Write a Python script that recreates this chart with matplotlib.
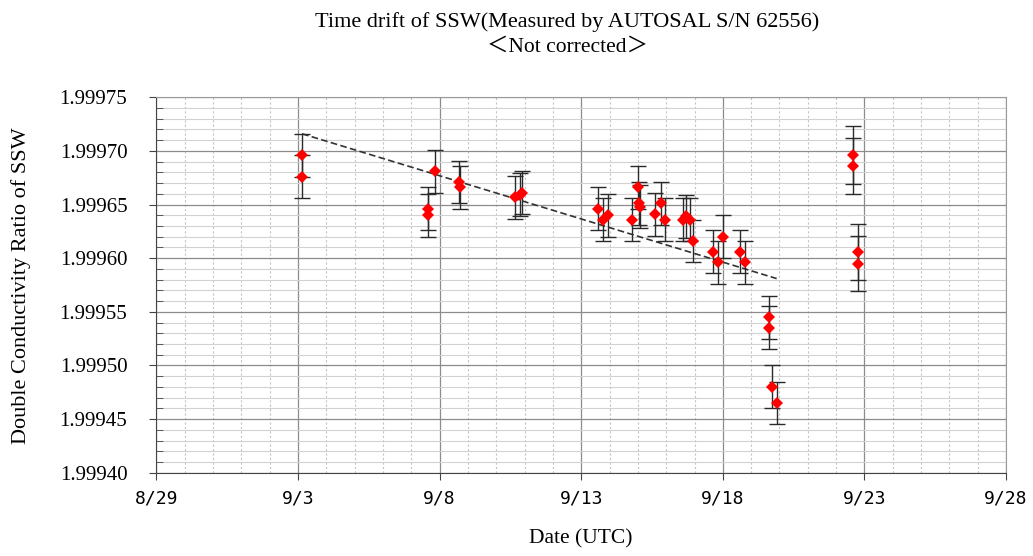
import numpy as np
import matplotlib
matplotlib.use("Agg")
from matplotlib import pyplot as plt
from matplotlib.ticker import MultipleLocator, FormatStrFormatter

# day of September (8/31 = 0), measured ratio, error
days = [3.14, 3.14, 7.60, 7.60, 7.85, 8.68, 8.73, 10.65, 10.82, 10.92,
        13.59, 13.77, 13.94, 14.80, 15.00, 15.03, 15.08, 15.62, 15.80, 15.94,
        16.59, 16.71, 16.83, 16.94, 17.65, 17.82, 18.00, 18.59, 18.77,
        19.63, 19.63, 19.75, 19.92, 22.61, 22.61, 22.78, 22.78]
ratio = [1.999696, 1.999676, 1.999646, 1.999640, 1.999681, 1.999671, 1.999666,
         1.999657, 1.999659, 1.999661,
         1.999646, 1.999636, 1.999640, 1.999636, 1.999666, 1.999651, 1.999648,
         1.999641, 1.999651, 1.999636,
         1.999636, 1.999639, 1.999636, 1.999616, 1.999606, 1.999596, 1.999620,
         1.999606, 1.999596,
         1.999545, 1.999535, 1.999480, 1.999465,
         1.999696, 1.999686, 1.999606, 1.999595]
err = [2.0e-5] * 33 + [2.7e-5, 2.6e-5, 2.6e-5, 2.6e-5]

# dashed drift line end points
trend_days = [3.14, 19.90]
trend_ratio = [1.999716, 1.999581]

xticks = [-2, 3, 8, 13, 18, 23, 28]
xtick_labels = ["8/29", "9/3", "9/8", "9/13", "9/18", "9/23", "9/28"]

serif = ["Liberation Serif", "DejaVu Serif"]

fig = plt.figure(figsize=(10.33, 5.56), dpi=100)
ax = fig.add_axes([0.1515, 0.1498, 0.8224, 0.6752])

ax.errorbar(days, ratio, yerr=err, fmt="none", ecolor="#2a2a2a",
            elinewidth=1.0, capsize=5.5, capthick=1.0, zorder=3)
ax.plot(days, ratio, "D", color="#ff0000", markersize=6.6,
        markeredgewidth=0, zorder=4)
ax.plot(trend_days, trend_ratio, "--", color="#333333", lw=1.2,
        dashes=(4, 2), zorder=2)

ax.set_xlim(-2, 28)
ax.set_ylim(1.99940, 1.99975)
ax.set_xticks(xticks)
ax.set_xticklabels(xtick_labels, family="DejaVu Sans Mono", fontsize=13)
ax.xaxis.set_minor_locator(MultipleLocator(1))
ax.yaxis.set_major_locator(MultipleLocator(0.00005))
ax.yaxis.set_minor_locator(MultipleLocator(0.00001))
ax.yaxis.set_major_formatter(FormatStrFormatter("%.5f"))
for lab in ax.get_yticklabels():
    lab.set_family(serif)
    lab.set_fontsize(15)

ax.tick_params(axis="y", which="major", direction="out", length=5, pad=16,
               color="#444444")
ax.tick_params(axis="y", which="minor", direction="in", length=5,
               color="#444444")
ax.tick_params(axis="x", which="major", direction="out", length=5, pad=7,
               color="#444444")
ax.tick_params(axis="x", which="minor", length=0)

ax.grid(True, which="major", axis="both", color="#8c8c8c", lw=0.9)
ax.grid(True, which="minor", axis="y", color="#d2d2d2", lw=0.8)
ax.grid(True, which="minor", axis="x", color="#c4c4c4", lw=0.8, ls=(0, (2, 2)))
ax.set_axisbelow(True)

for side in ["left", "bottom"]:
    ax.spines[side].set_color("#444444")
for side in ["top", "right"]:
    ax.spines[side].set_color("#9a9a9a")

fig.text(0.549, 0.961, "Time drift of SSW(Measured by AUTOSAL S/N 62556)",
         ha="center", va="center", family=serif, fontsize=16)
fig.text(0.549, 0.915, "＜Not corrected＞", ha="center", va="center",
         family=["Liberation Serif", "Noto Sans CJK JP"], fontsize=15.5)
fig.text(0.562, 0.03, "Date (UTC)", ha="center", va="center",
         family=serif, fontsize=15.5)
fig.text(0.02, 0.487, "Double Conductivity Ratio of SSW", ha="center",
         va="center", rotation=90, family=serif, fontsize=16)

fig.savefig("out.png", dpi=100)
